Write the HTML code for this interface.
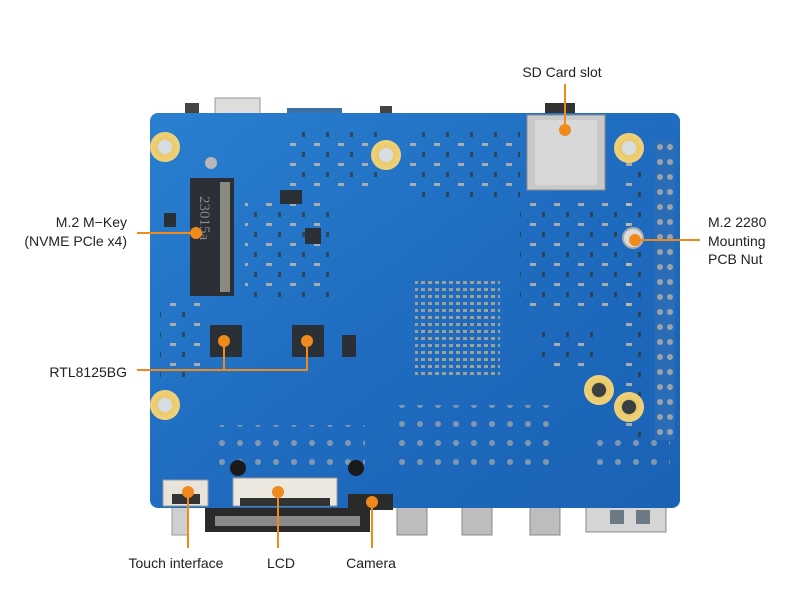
<!DOCTYPE html>
<html><head><meta charset="utf-8"><style>
html,body{margin:0;padding:0;background:#fff;width:800px;height:600px;overflow:hidden}
svg{display:block}
text{font-family:"Liberation Sans",sans-serif;font-size:14px;fill:#222}
</style></head><body>
<svg width="800" height="600" viewBox="0 0 800 600">
<defs>
<linearGradient id="bd" x1="0" y1="0" x2="1" y2="1">
<stop offset="0" stop-color="#2a7fd0"/><stop offset="0.5" stop-color="#1f6cc0"/><stop offset="1" stop-color="#1a62b4"/>
</linearGradient>
<radialGradient id="gold"><stop offset="0.45" stop-color="#d8dde2"/><stop offset="0.5" stop-color="#e9c96a"/><stop offset="1" stop-color="#f0d27a"/></radialGradient>
<radialGradient id="gold2"><stop offset="0.45" stop-color="#3a3f44"/><stop offset="0.5" stop-color="#e9c96a"/><stop offset="1" stop-color="#f0d27a"/></radialGradient>
<pattern id="soc" width="7" height="7" patternUnits="userSpaceOnUse"><rect x="1" y="1" width="4" height="3" fill="#b7a88c"/></pattern>
<pattern id="sm" width="24" height="20" patternUnits="userSpaceOnUse"><rect x="2" y="3" width="6" height="3" fill="#c8bda8" opacity="0.8"/><rect x="14" y="12" width="3" height="5" fill="#333" opacity="0.7"/></pattern>
<pattern id="vias" width="18" height="19" patternUnits="userSpaceOnUse"><circle cx="6" cy="6" r="3" fill="#9aa3ad"/></pattern>
</defs>
<!-- parts below board -->
<rect x="185" y="103" width="14" height="12" fill="#444"/>
<rect x="215" y="98" width="45" height="18" fill="#ddd" stroke="#999"/>
<rect x="287" y="108" width="55" height="8" fill="#3a6fa8"/>
<rect x="380" y="106" width="12" height="10" fill="#444"/>
<rect x="545" y="103" width="30" height="14" fill="#333"/>
<rect x="172" y="505" width="16" height="30" fill="#cfcfcf" stroke="#999"/>
<rect x="205" y="505" width="165" height="27" fill="#2a2a2a"/>
<rect x="215" y="516" width="145" height="10" fill="#8a8a8a"/>
<rect x="397" y="505" width="30" height="30" fill="#bdbdbd" stroke="#888"/>
<rect x="462" y="505" width="30" height="30" fill="#bdbdbd" stroke="#888"/>
<rect x="530" y="505" width="30" height="30" fill="#bdbdbd" stroke="#888"/>
<rect x="586" y="505" width="80" height="27" fill="#d5d5d5" stroke="#888"/>
<rect x="610" y="510" width="14" height="14" fill="#6c7a86"/><rect x="636" y="510" width="14" height="14" fill="#6c7a86"/>
<!-- board -->
<rect x="150" y="113" width="530" height="395" rx="8" fill="url(#bd)"/>
<!-- scattered parts -->
<rect x="290" y="130" width="90" height="60" fill="url(#sm)"/>
<rect x="410" y="130" width="110" height="70" fill="url(#sm)"/>
<rect x="245" y="200" width="90" height="100" fill="url(#sm)"/>
<rect x="520" y="200" width="110" height="110" fill="url(#sm)"/>
<rect x="160" y="300" width="40" height="80" fill="url(#sm)"/>
<rect x="540" y="330" width="60" height="40" fill="url(#sm)"/>
<rect x="620" y="160" width="30" height="280" fill="url(#sm)"/>
<rect x="215" y="425" width="150" height="40" fill="url(#vias)" opacity="0.8"/>
<rect x="395" y="405" width="165" height="70" fill="url(#vias)" opacity="0.8"/>
<rect x="590" y="440" width="80" height="35" fill="url(#vias)" opacity="0.8"/>
<rect x="415" y="280" width="85" height="95" fill="url(#soc)" opacity="0.85"/>
<!-- mounting holes -->
<circle cx="165" cy="147" r="15" fill="url(#gold)"/>
<circle cx="386" cy="155" r="15" fill="url(#gold)"/>
<circle cx="629" cy="148" r="15" fill="url(#gold)"/>
<circle cx="165" cy="405" r="15" fill="url(#gold)"/>
<circle cx="599" cy="390" r="15" fill="url(#gold2)"/>
<circle cx="629" cy="407" r="15" fill="url(#gold2)"/>
<circle cx="633" cy="238" r="10" fill="#dcdcdc" stroke="#aaa" stroke-width="2"/>
<circle cx="211" cy="163" r="6" fill="#b8b8b8"/>
<!-- SD card slot -->
<rect x="527" y="115" width="78" height="75" fill="#c9c9c9" stroke="#8d8d8d"/>
<rect x="535" y="120" width="62" height="65" fill="#d8d8d8"/>
<!-- M.2 connector -->
<rect x="190" y="178" width="44" height="118" fill="#2c2f35"/>
<rect x="220" y="182" width="10" height="110" fill="#8a8a80"/>
<text x="0" y="0" transform="translate(200,196) rotate(90)" style="font-family:'Liberation Serif',serif;font-size:15px;fill:#888">23015a</text>
<!-- chips -->
<rect x="210" y="325" width="32" height="32" fill="#2b2f36"/>
<rect x="292" y="325" width="32" height="32" fill="#2b2f36"/>
<rect x="342" y="335" width="14" height="22" fill="#2b2f36"/>
<rect x="164" y="213" width="12" height="14" fill="#2b2f36"/>
<rect x="280" y="190" width="22" height="14" fill="#2b2f36"/>
<rect x="305" y="228" width="16" height="16" fill="#2b2f36"/>
<!-- header pins -->
<rect x="655" y="140" width="20" height="300" fill="#2a6cb5"/>
<g fill="#9aa3ad">
<circle cx="660" cy="147" r="3"/><circle cx="670" cy="147" r="3"/><circle cx="660" cy="162" r="3"/><circle cx="670" cy="162" r="3"/>
<circle cx="660" cy="177" r="3"/><circle cx="670" cy="177" r="3"/><circle cx="660" cy="192" r="3"/><circle cx="670" cy="192" r="3"/>
<circle cx="660" cy="207" r="3"/><circle cx="670" cy="207" r="3"/><circle cx="660" cy="222" r="3"/><circle cx="670" cy="222" r="3"/>
<circle cx="660" cy="237" r="3"/><circle cx="670" cy="237" r="3"/><circle cx="660" cy="252" r="3"/><circle cx="670" cy="252" r="3"/>
<circle cx="660" cy="267" r="3"/><circle cx="670" cy="267" r="3"/><circle cx="660" cy="282" r="3"/><circle cx="670" cy="282" r="3"/>
<circle cx="660" cy="297" r="3"/><circle cx="670" cy="297" r="3"/><circle cx="660" cy="312" r="3"/><circle cx="670" cy="312" r="3"/>
<circle cx="660" cy="327" r="3"/><circle cx="670" cy="327" r="3"/><circle cx="660" cy="342" r="3"/><circle cx="670" cy="342" r="3"/>
<circle cx="660" cy="357" r="3"/><circle cx="670" cy="357" r="3"/><circle cx="660" cy="372" r="3"/><circle cx="670" cy="372" r="3"/>
<circle cx="660" cy="387" r="3"/><circle cx="670" cy="387" r="3"/><circle cx="660" cy="402" r="3"/><circle cx="670" cy="402" r="3"/>
<circle cx="660" cy="417" r="3"/><circle cx="670" cy="417" r="3"/><circle cx="660" cy="432" r="3"/><circle cx="670" cy="432" r="3"/>
</g>
<!-- bottom connectors -->
<rect x="163" y="480" width="45" height="26" fill="#e8e4dc" stroke="#999"/>
<rect x="172" y="494" width="28" height="10" fill="#333"/>
<rect x="233" y="478" width="104" height="28" fill="#ece8e0" stroke="#999"/>
<rect x="240" y="498" width="90" height="8" fill="#333"/>
<rect x="348" y="494" width="45" height="16" fill="#2a2a2a"/>
<circle cx="238" cy="468" r="8" fill="#1a1a1a"/><circle cx="356" cy="468" r="8" fill="#1a1a1a"/>
<!-- callouts -->
<g stroke="#f08a1c" stroke-width="2" fill="none">
<line x1="565" y1="84" x2="565" y2="130"/>
<line x1="137" y1="233" x2="196" y2="233"/>
<line x1="635" y1="240" x2="700" y2="240"/>
<polyline points="137,370 307,370 307,341"/>
<line x1="224" y1="341" x2="224" y2="370"/>
<line x1="188" y1="492" x2="188" y2="548"/>
<line x1="278" y1="492" x2="278" y2="548"/>
<line x1="372" y1="502" x2="372" y2="548"/>
</g>
<g fill="#f08a1c">
<circle cx="565" cy="130" r="6"/><circle cx="196" cy="233" r="6"/><circle cx="635" cy="240" r="6"/>
<circle cx="224" cy="341" r="6"/><circle cx="307" cy="341" r="6"/>
<circle cx="188" cy="492" r="6"/><circle cx="278" cy="492" r="6"/><circle cx="372" cy="502" r="6"/>
</g>
<text x="562" y="77" text-anchor="middle">SD Card slot</text>
<text x="127" y="227" text-anchor="end">M.2 M−Key</text>
<text x="127" y="246" text-anchor="end">(NVME PCle x4)</text>
<text x="708" y="227">M.2 2280</text>
<text x="708" y="246">Mounting</text>
<text x="708" y="264">PCB Nut</text>
<text x="127" y="377" text-anchor="end">RTL8125BG</text>
<text x="176" y="568" text-anchor="middle">Touch interface</text>
<text x="281" y="568" text-anchor="middle">LCD</text>
<text x="371" y="568" text-anchor="middle">Camera</text>
</svg>
</body></html>
